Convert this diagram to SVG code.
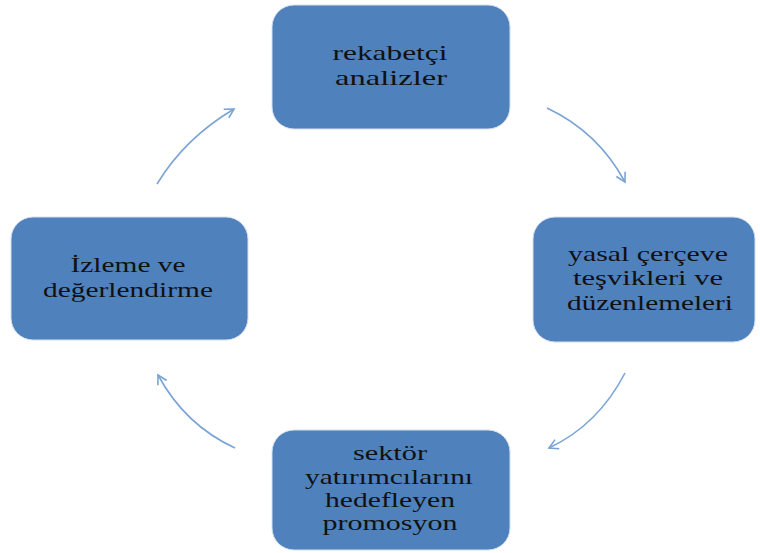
<svg xmlns="http://www.w3.org/2000/svg" width="760" height="553" viewBox="0 0 760 553">
<defs>
<style>
.box{fill:#4f81bd;stroke:#d6e0ee;stroke-width:1}
.t{font-family:"Liberation Serif","DejaVu Serif",serif;font-size:21px;fill:#111;text-anchor:middle}
.c{fill:none;stroke:#7aa3d6;stroke-width:1.6}
</style>
<marker id="ah" viewBox="0 0 12 12" refX="10" refY="6" markerWidth="12" markerHeight="12" markerUnits="userSpaceOnUse" orient="auto">
<path d="M1,1 L10,6 L1,11" fill="none" stroke="#7aa3d6" stroke-width="1.6"/>
</marker>
</defs>
<rect width="760" height="553" fill="#fff"/>
<g id="connectors">
<path class="c" d="M157,184 Q185,138 234,109" marker-end="url(#ah)"/>
<path class="c" d="M547,108 Q598,132 625,182" marker-end="url(#ah)"/>
<path class="c" d="M625,373 Q598,425 549,448" marker-end="url(#ah)"/>
<path class="c" d="M235,448 Q185,425 158,375" marker-end="url(#ah)"/>
</g>
<g id="n1">
<rect class="box" x="272" y="5" width="238" height="124" rx="22"/>
<text class="t" x="390" y="60" textLength="115" lengthAdjust="spacingAndGlyphs">rekabetçi</text>
<text class="t" x="391" y="85" textLength="112" lengthAdjust="spacingAndGlyphs">analizler</text>
</g>
<g id="n2">
<rect class="box" x="533" y="217" width="222" height="125" rx="22"/>
<text class="t" x="648" y="261" textLength="160" lengthAdjust="spacingAndGlyphs">yasal çerçeve</text>
<text class="t" x="648" y="285" textLength="150" lengthAdjust="spacingAndGlyphs">teşvikleri  ve</text>
<text class="t" x="650" y="310" textLength="166" lengthAdjust="spacingAndGlyphs">düzenlemeleri</text>
</g>
<g id="n3">
<rect class="box" x="272" y="430" width="238" height="120" rx="22"/>
<text class="t" x="390" y="460" textLength="74" lengthAdjust="spacingAndGlyphs">sektör</text>
<text class="t" x="389" y="484" textLength="168" lengthAdjust="spacingAndGlyphs">yatırımcılarını</text>
<text class="t" x="390" y="507" textLength="130" lengthAdjust="spacingAndGlyphs">hedefleyen</text>
<text class="t" x="390" y="530" textLength="135" lengthAdjust="spacingAndGlyphs">promosyon</text>
</g>
<g id="n4">
<rect class="box" x="11" y="217" width="237" height="123" rx="22"/>
<text class="t" x="128" y="272" textLength="115" lengthAdjust="spacingAndGlyphs">İzleme ve</text>
<text class="t" x="128" y="297" textLength="170" lengthAdjust="spacingAndGlyphs">değerlendirme</text>
</g>
</svg>
